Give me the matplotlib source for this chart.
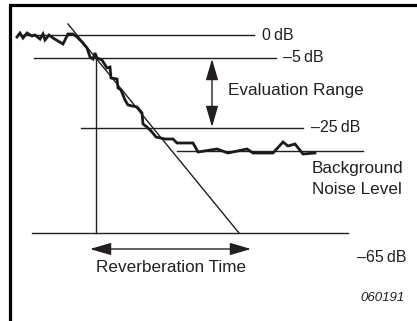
import matplotlib
matplotlib.use("Agg")
import matplotlib.pyplot as plt

plt.rcParams['font.family'] = ['Liberation Sans', 'DejaVu Sans']

# Schematic coordinates (x: time axis units, y: drawing level units, downward)
decay_t = [17, 20, 23, 27, 32, 35, 40, 43, 45, 49, 53, 63, 68, 73, 77, 82, 87, 90, 93, 95,
           97, 102, 107, 110, 111, 117, 118, 121, 125, 128, 137, 142, 143, 147, 152, 156,
           165, 173, 177, 193, 198, 217, 228, 247, 253, 273, 283, 288, 295, 303, 315]
decay_level = [37, 33, 38, 33, 36, 35, 39, 34, 40, 35, 38, 44, 34, 34, 37, 42, 48, 57, 59, 53,
               58, 60, 68, 67, 78, 79, 88, 90, 100, 105, 107, 113, 124, 127, 132, 137,
               139, 139, 143, 143, 152, 149, 153, 149, 153, 153, 142, 146, 144, 154, 153]

level_names = ["0\u2009dB", "\u20135\u2009dB", "\u201325\u2009dB", "\u201365\u2009dB"]
level_y = [35, 58, 128, 233]
level_x0 = [20, 34, 81, 32]
level_x1 = [254, 276, 303, 348]
label_x = [262, 283, 311, 357]
label_y = [35, 58, 128, 257]

noise_y = 151
noise_x = [177, 363]
fit_line_t = [68, 239]
fit_line_y = [24, 233]
rt_start_x = 96

fig = plt.figure(figsize=(4.17, 3.21), dpi=100)
ax = fig.add_axes([0, 0, 1, 1])
ax.set_xlim(0, 417)
ax.set_ylim(321, 0)
ax.axis('off')

# frame (top and left)
ax.plot([10, 10, 417], [321, 5, 5], color='black', lw=2.3, solid_capstyle='butt',
        solid_joinstyle='miter')

# level lines
lc = '#231f20'
for y, x0, x1 in zip(level_y, level_x0, level_x1):
    ax.plot([x0, x1], [y, y], color=lc, lw=1.0)
for name, x, y in zip(level_names, label_x, label_y):
    ax.text(x, y, name, fontsize=11.5, ha='left', va='center', color=lc)

ax.plot(noise_x, [noise_y, noise_y], color=lc, lw=1.0)

# vertical start line
ax.plot([rt_start_x, rt_start_x], [level_y[1], level_y[3]], color=lc, lw=1.0)

# regression line
ax.plot(fit_line_t, fit_line_y, color=lc, lw=1.0)

# decay curve
ax.plot(decay_t, decay_level, color='#1a1a1a', lw=2.0, solid_joinstyle='miter')

# evaluation range arrow
ax.annotate('', xy=(212, 59), xytext=(212, 127),
            arrowprops=dict(arrowstyle='<|-|>,head_length=1.3,head_width=0.38',
                            mutation_scale=10, color=lc, lw=1.0,
                            shrinkA=0, shrinkB=0))
ax.text(228, 91, "Evaluation Range", fontsize=12.3, ha='left', va='center', color=lc)

# reverberation time arrow
ax.annotate('', xy=(90, 249), xytext=(251, 249),
            arrowprops=dict(arrowstyle='<|-|>,head_length=1.3,head_width=0.38',
                            mutation_scale=10, color=lc, lw=1.0,
                            shrinkA=0, shrinkB=0))
ax.text(171, 267, "Reverberation Time", fontsize=12.3, ha='center', va='center', color=lc)

ax.text(312, 169, "Background", fontsize=12.3, ha='left', va='center', color=lc)
ax.text(312, 190, "Noise Level", fontsize=12.3, ha='left', va='center', color=lc)

ax.text(405, 298, "060191", fontsize=9.5, ha='right', va='center', style='italic', color=lc)

fig.savefig("out.png", dpi=100)
